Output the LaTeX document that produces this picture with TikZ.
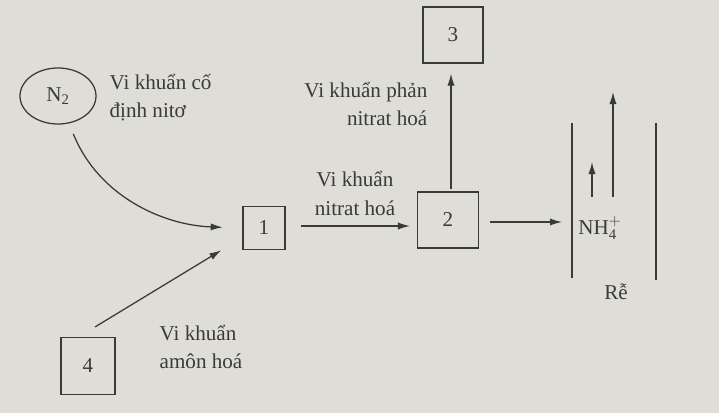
\documentclass[tikz,border=0pt]{standalone}
\usepackage{fontspec}
\setmainfont{Liberation Serif}
\usepackage{tikz}
\usetikzlibrary{shapes.geometric, arrows.meta, positioning, calc}
\definecolor{paper}{HTML}{DEDDD8}
\definecolor{ink}{HTML}{3A3A38}

\begin{document}
\begin{tikzpicture}[
  x=0.025cm, y=-0.025cm,
  every node/.style={font=\fontsize{15}{20}\selectfont, text=ink},
  numbox/.style={rectangle, draw=ink, line width=0.9pt, inner sep=0pt},
  gasnode/.style={ellipse, draw=ink, line width=0.9pt, inner sep=0pt, minimum width=1.9cm, minimum height=1.4cm},
  note/.style={align=left, inner sep=1pt},
  arrow/.style={-{Latex[length=3mm, width=1.8mm]}, line width=0.9pt, color=ink},
  wall/.style={line width=1pt, color=ink}
]
% background and frame of the picture
\fill[paper] (0,0) rectangle (719,413);
\useasboundingbox (0,0) rectangle (719,413);

% === main nodes ===
\node[gasnode] (n2) at (58,96) {N$_{\mathrm{2}}$};
\node[numbox, minimum width=1.05cm, minimum height=1.08cm] (b1) at (264,228) {1};
\node[numbox, minimum width=1.52cm, minimum height=1.4cm] (b2) at (448,220) {2};
\node[numbox, minimum width=1.5cm, minimum height=1.4cm] (b3) at (453,35) {3};
\node[numbox, minimum width=1.35cm, minimum height=1.42cm] (b4) at (88,366) {4};

% root with NH4+
\node[inner sep=1pt] (nh4) at (600,228) {NH$_{\mathrm{4}}^{+}$};
\node (re) at (616,292) {Rễ};
\coordinate (wallLtop) at (572,123);
\coordinate (wallLbot) at (572,278);
\coordinate (wallRtop) at (656,123);
\coordinate (wallRbot) at (656,280);
\draw[wall] (wallLtop) -- (wallLbot);
\draw[wall] (wallRtop) -- (wallRbot);

% uptake arrows inside the root
\coordinate (upA) at (592,197);
\coordinate (upB) at (613,197);
\draw[arrow] (upA) -- ++(0,-35);
\draw[arrow] (upB) -- ++(0,-105);

% === arrows ===
\draw[arrow, shorten <=8pt, shorten >=14pt] (n2) to[out=-68, in=178] (b1.west);
\draw[arrow] ($(b4.north)+(7,-10)$) -- ($(b1.south west)+(-21,0)$);
\draw[arrow] ($(b1.east)+(15,-2)$) -- ($(b2.west)+(-7,6)$);
\draw[arrow] ($(b2.north)+(3,-2)$) -- ($(b3.south)+(-2,10)$);
\draw[arrow] ($(b2.east)+(11,2)$) -- ($(wallLtop |- b2.east)+(-10,2)$);

% labels
\node[note, anchor=west] (fixlbl) at (108,98) {Vi khuẩn cố\\định nitơ};
\node[note, align=center, anchor=south] (nitlbl) at (355,217) {Vi khuẩn\\nitrat hoá};
\node[note, align=right, anchor=east] (denlbl) at (429,104) {Vi khuẩn phản\\nitrat hoá};
\node[note, anchor=west] (amlbl) at (158,347) {Vi khuẩn\\amôn hoá};

\end{tikzpicture}
\end{document}
